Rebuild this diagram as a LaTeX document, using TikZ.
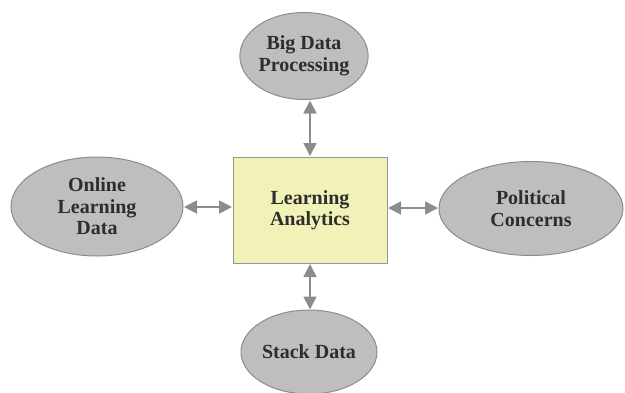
\documentclass[tikz,border=0pt]{standalone}
\usepackage{fontspec}
\setmainfont{Liberation Serif}
\usetikzlibrary{shapes.geometric,arrows.meta}
\definecolor{ovalfill}{RGB}{190,190,190}
\definecolor{ovaldraw}{RGB}{140,140,140}
\definecolor{boxfill}{RGB}{242,242,184}
\definecolor{boxdraw}{RGB}{150,150,150}
\definecolor{linkcol}{RGB}{140,140,140}
\definecolor{txtcol}{RGB}{45,45,45}
\begin{document}
\begin{tikzpicture}[x=1pt,y=-1pt,
  lbl/.style={font=\fontsize{20}{21.5}\selectfont\bfseries, text=txtcol, align=center},
  oval/.style={lbl, ellipse, draw=ovaldraw, fill=ovalfill, line width=1pt, inner sep=0pt},
  hub/.style={lbl, rectangle, draw=boxdraw, fill=boxfill, line width=1pt, inner sep=0pt},
  link/.style={draw=linkcol, line width=1.8pt, {Triangle[length=13pt,width=13pt]}-{Triangle[length=13pt,width=13pt]}, shorten <=0.5pt, shorten >=0.5pt}]
  \useasboundingbox (0,0) rectangle (625,392);
  \node[hub, minimum width=154pt, minimum height=106pt] (la) at (310,210) {Learning\\Analytics};
  \node[oval, minimum width=124pt, minimum height=87pt] (big) at (304,56) {Big Data\\Processing};
  \node[oval, minimum width=172pt, minimum height=99pt] (onl) at (97,206.5) {Online\\Learning\\Data};
  \node[oval, minimum width=184pt, minimum height=94pt] (pol) at (531,208.5) {Political\\Concerns};
  \node[oval, minimum width=136pt, minimum height=84pt] (stk) at (309,352) {Stack Data};
  \draw[link] (310,100) -- (la.north);
  \draw[link] (la.south) -- (310,310);
  \draw[link] (onl.east |- 0,207) -- (la.west |- 0,207);
  \draw[link] (la.east |- 0,208) -- (pol.west |- 0,208);
\end{tikzpicture}
\end{document}
